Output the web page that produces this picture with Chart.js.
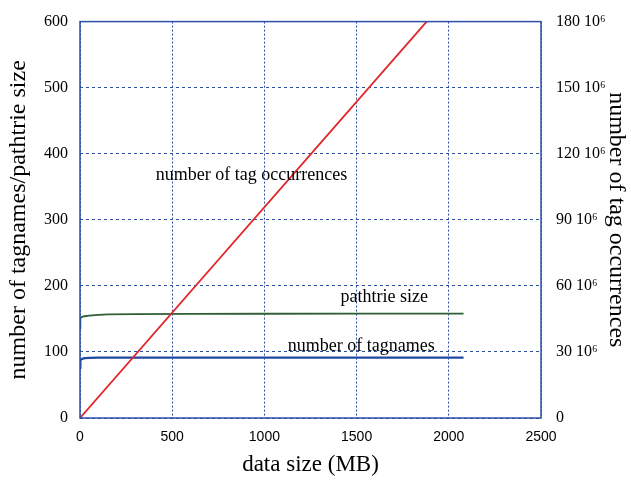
<!DOCTYPE html>
<html><head><meta charset="utf-8">
<script src="https://cdn.jsdelivr.net/npm/chart.js@4"></script>
<style>html,body{margin:0;padding:0;background:#fff}canvas{display:block}</style>
</head><body>
<canvas id="c" width="631" height="493"></canvas>
<script>
const xTicks = [0, 500, 1000, 1500, 2000, 2500];
const leftTicks = [0, 100, 200, 300, 400, 500, 600];
const rightTicks = [0, 30, 60, 90, 120, 150, 180];
const occX = [0, 1880];
const occY = [0, 180];
const pathX = [0, 1, 3, 6, 12, 25, 50, 100, 150, 300, 600, 1000, 1500, 2080];
const pathY = [136, 148, 151, 152, 153, 154, 155, 156, 157, 157.3, 157.6, 157.8, 158, 158];
const tagX = [0, 1, 3, 6, 12, 25, 50, 100, 500, 1000, 1500, 2080];
const tagY = [76, 84, 87, 88.5, 89.5, 90.5, 91, 91.3, 91.3, 91.3, 91.3, 91.3];
const notes = [
  {text: 'number of tag occurrences', x: 930, y: 368},
  {text: 'pathtrie size', x: 1650, y: 182},
  {text: 'number of tagnames', x: 1525, y: 108}
];
const blue = '#2b4ea6';
const serif = '"Liberation Serif", "Times New Roman", serif';

const pts = (xs, ys) => xs.map((x, i) => ({x, y: ys[i]}));

const framePlugin = {
  id: 'frame',
  afterDraw(chart) {
    const {ctx, chartArea: a, scales} = chart;
    ctx.save();
    ctx.strokeStyle = blue;
    ctx.lineWidth = 1.5;
    ctx.setLineDash([]);
    ctx.strokeRect(a.left, a.top, a.right - a.left, a.bottom - a.top);
    ctx.fillStyle = '#000';
    ctx.font = '18px ' + serif;
    ctx.textAlign = 'center';
    ctx.textBaseline = 'middle';
    notes.forEach(n => {
      ctx.fillText(n.text, scales.x.getPixelForValue(n.x), scales.y.getPixelForValue(n.y));
    });
    ctx.restore();
  }
};

new Chart(document.getElementById('c'), {
  type: 'scatter',
  data: {
    datasets: [
      {data: pts(occX, occY), yAxisID: 'y2', showLine: true, borderColor: '#e0262b', borderWidth: 1.8, pointRadius: 0, tension: 0},
      {data: pts(pathX, pathY), yAxisID: 'y', showLine: true, borderColor: '#2f5e34', borderWidth: 1.8, pointRadius: 0, tension: 0},
      {data: pts(tagX, tagY), yAxisID: 'y', showLine: true, borderColor: '#1f4aa0', borderWidth: 2.2, pointRadius: 0, tension: 0}
    ]
  },
  options: {
    responsive: false,
    animation: false,
    layout: {padding: {top: 17, left: 0, right: 0, bottom: 0}},
    plugins: {legend: {display: false}, tooltip: {enabled: false}},
    scales: {
      x: {
        type: 'linear', min: 0, max: 2500,
        afterBuildTicks: s => { s.ticks = xTicks.map(v => ({value: v})); },
        afterFit: s => { s.height = 75; },
        grid: {color: blue, lineWidth: 1, drawTicks: false},
        border: {display: false, dash: [2, 2]},
        ticks: {color: '#000', font: {family: '"Liberation Sans", Arial, sans-serif', size: 14}, padding: 11, maxRotation: 0,
          callback: v => String(v)},
        title: {display: true, text: 'data size (MB)', color: '#000', font: {family: serif, size: 23}, padding: {top: 4, bottom: 14}}
      },
      y: {
        type: 'linear', position: 'left', min: 0, max: 600,
        afterBuildTicks: s => { s.ticks = leftTicks.map(v => ({value: v})); },
        afterFit: s => { s.width = 80; },
        grid: {color: blue, lineWidth: 1, drawTicks: false},
        border: {display: false, dash: [3, 3]},
        ticks: {color: '#000', font: {family: serif, size: 16}, padding: 12},
        title: {display: true, text: 'number of tagnames/pathtrie size', color: '#000', font: {family: serif, size: 24}, padding: {top: 4, bottom: 4}}
      },
      y2: {
        type: 'linear', position: 'right', min: 0, max: 180,
        afterBuildTicks: s => { s.ticks = rightTicks.map(v => ({value: v})); },
        afterFit: s => { s.width = 90; },
        grid: {display: false},
        border: {display: false},
        ticks: {color: '#000', font: {family: serif, size: 16}, padding: 7,
          callback: v => v === 0 ? '0' : v + ' 10\u2076'},
        title: {display: true, text: 'number of tag occurrences', color: '#000', font: {family: serif, size: 24}, padding: {top: 0, bottom: 0}}
      }
    }
  },
  plugins: [framePlugin]
});
</script>
</body></html>
